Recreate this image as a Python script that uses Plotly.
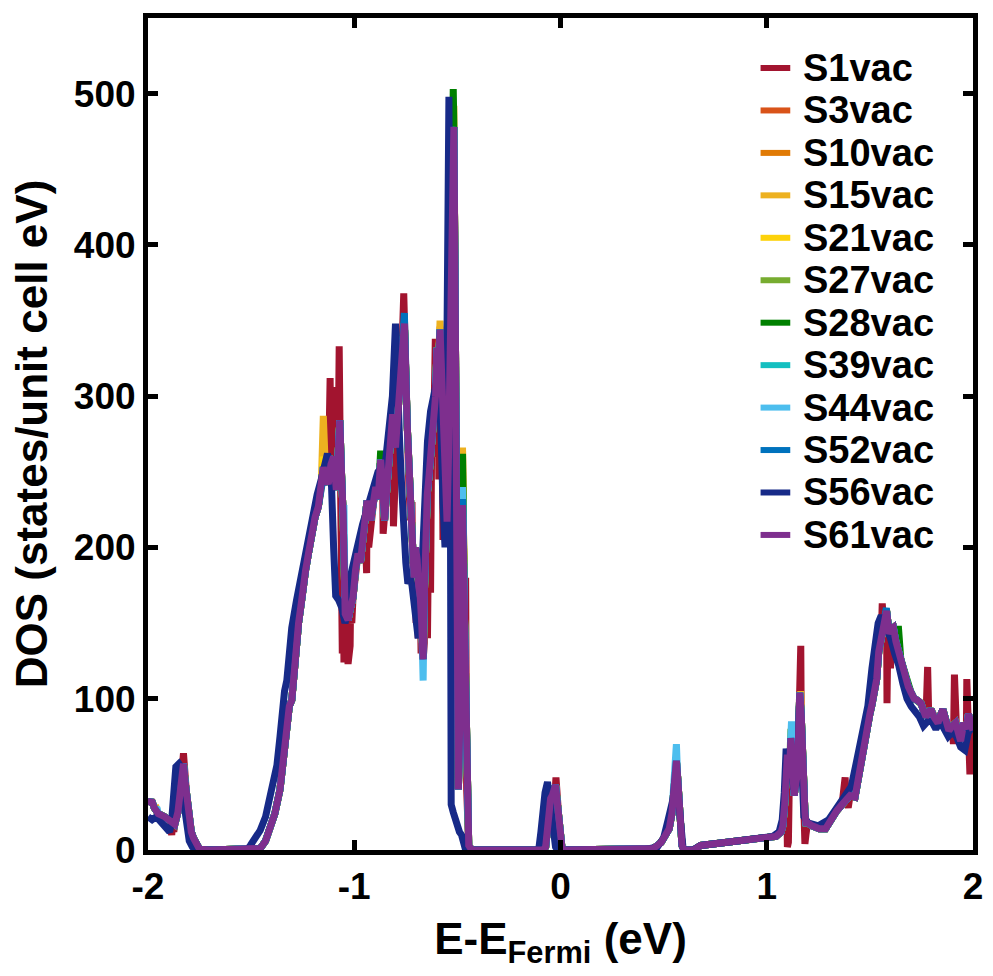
import plotly.graph_objects as go

# ---------------- data ----------------
SERIES = ["S1vac", "S3vac", "S10vac", "S15vac", "S21vac", "S27vac",
          "S28vac", "S39vac", "S44vac", "S52vac", "S56vac", "S61vac"]
COLORS = ["#A2142F", "#D95319", "#E07A05", "#EDB120", "#FDD20A", "#77AC30",
          "#008000", "#14BFC0", "#4DBEEE", "#0072BD", "#172A88", "#7E2F8E"]

X_TICKS = [-2, -1, 0, 1, 2]
X_TICK_TEXT = ["-2", "-1", "0", "1", "2"]
Y_TICKS = [0, 100, 200, 300, 400, 500]

# S61vac (drawn on top) – energy (eV) and DOS
E_S61 = [-2.00, -1.983, -1.97, -1.95, -1.92, -1.90, -1.88, -1.87, -1.855, -1.845,
         -1.835, -1.828, -1.82, -1.806, -1.79, -1.78, -1.765, -1.75, -1.70, -1.60,
         -1.50, -1.47, -1.456, -1.43, -1.41, -1.385, -1.36, -1.345, -1.327, -1.315,
         -1.303, -1.29, -1.28, -1.27, -1.255, -1.245, -1.236, -1.222, -1.207, -1.19,
         -1.174, -1.16, -1.15, -1.138, -1.126, -1.113, -1.10, -1.087, -1.078, -1.07,
         -1.062, -1.054, -1.044, -1.03, -1.018, -1.006, -0.994, -0.982, -0.97, -0.958,
         -0.948, -0.938, -0.92, -0.908, -0.896, -0.884, -0.872, -0.862, -0.853, -0.844,
         -0.834, -0.824, -0.814, -0.80, -0.79, -0.782, -0.77, -0.757, -0.743, -0.735,
         -0.727, -0.718, -0.71, -0.703, -0.695, -0.688, -0.68, -0.673, -0.666, -0.66,
         -0.655, -0.646, -0.637, -0.625, -0.613, -0.606, -0.599, -0.592, -0.584, -0.575,
         -0.565, -0.558, -0.55, -0.543, -0.536, -0.527, -0.517, -0.51, -0.503, -0.495,
         -0.485, -0.475, -0.465, -0.455, -0.445, -0.43, -0.30, -0.15, -0.085, -0.072,
         -0.064, -0.057, -0.048, -0.04, -0.03, -0.024, -0.016, -0.008, 0.0, 0.008,
         0.02, 0.2, 0.4, 0.45, 0.488, 0.51, 0.527, 0.54, 0.551, 0.557,
         0.562, 0.568, 0.575, 0.582, 0.589, 0.60, 0.647, 0.68, 0.75, 0.824,
         0.88, 0.934, 1.0, 1.045, 1.07, 1.078, 1.087, 1.095, 1.10, 1.11,
         1.117, 1.125, 1.133, 1.142, 1.15, 1.155, 1.16, 1.167, 1.172, 1.178,
         1.185, 1.19, 1.198, 1.22, 1.255, 1.285, 1.317, 1.34, 1.365, 1.385,
         1.404, 1.428, 1.44, 1.452, 1.465, 1.476, 1.488, 1.50, 1.51, 1.518,
         1.533, 1.543, 1.555, 1.567, 1.575, 1.581, 1.588, 1.595, 1.605, 1.614,
         1.626, 1.638, 1.65, 1.662, 1.675, 1.686, 1.70, 1.715, 1.73, 1.748,
         1.76, 1.772, 1.785, 1.796, 1.81, 1.83, 1.842, 1.854, 1.87, 1.883,
         1.90, 1.916, 1.928, 1.94, 1.955, 1.968, 1.978, 1.99, 2.0]
V_S61 = [30, 33, 28, 24, 22, 20, 18, 17, 25, 38,
         52, 57, 45, 24, 12, 8, 3, 0.5, 0, 0,
         0, 0.5, 1, 6, 13, 24, 40, 58, 80, 95,
         99, 125, 143, 150, 165, 178, 185, 196, 209, 220,
         227, 240, 253, 245, 242, 255, 260, 238, 262, 284,
         250, 222, 156, 152, 160, 167, 185, 196, 190, 205,
         215, 231, 218, 228, 240, 232, 258, 240, 218, 235,
         253, 270, 288, 266, 285, 304, 325, 348, 280, 250,
         218, 195, 180, 200, 192, 175, 167, 150, 126, 170,
         217, 235, 248, 265, 289, 300, 332, 320, 344, 310,
         281, 250, 217, 260, 332, 410, 478, 350, 250, 40,
         110, 228, 150, 40, 3, 0, 0, 0, 0, 2,
         15, 30, 34, 36, 40, 43, 32, 18, 6, 0.5,
         0, 0, 0, 1, 5, 9, 14, 24, 41, 52,
         59, 48, 33, 15, 3, 0, 0, 3, 4, 5,
         6, 7, 8, 9, 12, 16, 30, 55, 63, 50,
         74, 55, 36, 45, 52, 80, 104, 90, 60, 42,
         25, 18, 18, 16, 14, 14, 22, 26, 30, 33,
         36, 35, 45, 57, 66, 75, 82, 90, 96, 102,
         113, 131, 140, 149, 155, 158, 150, 143, 146, 147,
         138, 131, 126, 120, 114, 108, 104, 100, 99, 97,
         92, 88, 91, 93, 88, 84, 89, 93, 85, 79,
         82, 84, 78, 72, 84, 80, 90, 82, 79]

# S56vac (dark blue, slightly shifted to lower energy)
E_S56 = [-2.00, -1.98, -1.96, -1.93, -1.91, -1.895, -1.885, -1.875, -1.865, -1.85,
         -1.84, -1.83, -1.815, -1.80, -1.785, -1.77, -1.60, -1.52, -1.504, -1.48,
         -1.456, -1.43, -1.41, -1.39, -1.375, -1.36, -1.35, -1.338, -1.327, -1.303,
         -1.28, -1.26, -1.24, -1.22, -1.20, -1.18, -1.16, -1.14, -1.13, -1.12,
         -1.11, -1.10, -1.09, -1.075, -1.06, -1.045, -1.03, -1.02, -1.005, -0.99,
         -0.975, -0.96, -0.945, -0.93, -0.915, -0.90, -0.885, -0.87, -0.86, -0.85,
         -0.84, -0.83, -0.815, -0.80, -0.79, -0.78, -0.77, -0.76, -0.75, -0.74,
         -0.73, -0.72, -0.71, -0.70, -0.69, -0.68, -0.67, -0.66, -0.645, -0.63,
         -0.615, -0.60, -0.59, -0.58, -0.57, -0.56, -0.555, -0.548, -0.541, -0.535,
         -0.53, -0.52, -0.51, -0.50, -0.49, -0.48, -0.47, -0.46, -0.11, -0.104,
         -0.095, -0.088, -0.075, -0.063, -0.055, -0.048, -0.04, -0.03, -0.024, -0.015,
         0.40, 0.47, 0.50, 0.52, 0.535, 0.548, 0.555, 0.56, 0.568, 0.575,
         0.585, 0.595, 0.64, 0.68, 0.80, 0.95, 1.03, 1.06, 1.075, 1.085,
         1.094, 1.105, 1.115, 1.13, 1.15, 1.158, 1.165, 1.18, 1.20, 1.25,
         1.30, 1.33, 1.36, 1.39, 1.41, 1.43, 1.45, 1.47, 1.49, 1.51,
         1.525, 1.54, 1.555, 1.57, 1.585, 1.60, 1.62, 1.64, 1.66, 1.68,
         1.70, 1.72, 1.74, 1.76, 1.78, 1.80, 1.82, 1.84, 1.86, 1.88,
         1.90, 1.92, 1.94, 1.96, 1.98, 2.00]
V_S56 = [22, 20, 22, 18, 14, 12, 20, 45, 55, 57,
         55, 35, 17, 6, 2, 0, 0, 0, 3, 8,
         13, 22, 33, 45, 56, 75, 97, 105, 112, 147,
         165, 180, 195, 210, 222, 235, 245, 258, 262, 255,
         240, 200, 168, 165, 160, 150, 158, 180, 190, 200,
         210, 215, 222, 230, 235, 245, 250, 252, 245, 255,
         270, 290, 300, 348, 320, 270, 240, 210, 190, 176,
         180, 175, 160, 150, 140, 160, 200, 240, 270, 290,
         300, 310, 300, 280, 230, 200, 260, 400, 498, 300,
         30, 25, 20, 15, 12, 10, 5, 0, 0, 2,
         12, 25, 38, 45, 35, 25, 17, 6, 2, 0,
         0, 2, 8, 19, 28, 35, 45, 50, 40, 25,
         5, 0, 0, 3, 5, 7, 9, 12, 20, 38,
         67, 55, 60, 40, 50, 95, 70, 22, 18, 16,
         20, 26, 32, 38, 42, 55, 68, 85, 95, 120,
         140, 150, 155, 150, 148, 140, 130, 122, 110, 100,
         95, 92, 88, 82, 85, 85, 80, 85, 80, 75,
         78, 75, 68, 66, 80, 78]

# Points where the other series visibly differ from S61vac (energy: DOS)
S1_POINTS = {-1.885: 10, -1.875: 12, -1.828: 64, -1.117: 312, -1.105: 290,
             -1.093: 306, -1.082: 280, -1.073: 333, -1.065: 240, -1.058: 130,
             -1.05: 124, -1.04: 140, -1.03: 123, -1.02: 135, -1.012: 150,
             -0.94: 183, -0.93: 200, -0.86: 209, -0.81: 214, -0.76: 368,
             -0.748: 300, -0.735: 240, -0.72: 230, -0.70: 150, -0.69: 140,
             -0.676: 130, -0.66: 137, -0.645: 140, -0.63: 170, -0.62: 260,
             -0.607: 338, -0.59: 245, -0.57: 205, -0.56: 210, -0.47: 200,
             -0.46: 180, -0.022: 48, 1.10: 2, 1.105: 5, 1.165: 135,
             1.185: 4, 1.19: 10, 1.38: 48, 1.395: 28, 1.56: 163,
             1.575: 150, 1.583: 97, 1.60: 120, 1.76: 95, 1.78: 121,
             1.79: 85, 1.905: 70, 1.91: 116, 1.92: 80, 1.97: 113,
             1.985: 50, 1.995: 60}
S3_POINTS = {-0.475: 236, 1.16: 102}
S10_POINTS = {-0.475: 264, -0.584: 346}
S15_POINTS = {-1.96: 28, -1.15: 287, -0.584: 350, -0.517: 492, -0.475: 266, 1.165: 105}
S21_POINTS = {-0.475: 245, -1.15: 260}
S27_POINTS = {1.117: 80, -0.475: 250}
S28_POINTS = {-0.872: 264, -0.52: 503, -0.475: 262, 1.638: 148}
S39_POINTS = {1.12: 80, -0.475: 238}
S44_POINTS = {-1.955: 27, -1.05: 228, -0.666: 112, -0.475: 240, 0.562: 70, 1.12: 85}
S52_POINTS = {-1.14: 255, -0.757: 355, -0.475: 232, 1.58: 160}


def with_points(base_e, base_v, points):
    table = dict(zip(base_e, base_v))
    table.update(points)
    keys = sorted(table)
    return keys, [table[k] for k in keys]


DATA = {
    "S1vac": with_points(E_S61, V_S61, S1_POINTS),
    "S3vac": with_points(E_S61, V_S61, S3_POINTS),
    "S10vac": with_points(E_S61, V_S61, S10_POINTS),
    "S15vac": with_points(E_S61, V_S61, S15_POINTS),
    "S21vac": with_points(E_S61, V_S61, S21_POINTS),
    "S27vac": with_points(E_S61, V_S61, S27_POINTS),
    "S28vac": with_points(E_S61, V_S61, S28_POINTS),
    "S39vac": with_points(E_S61, V_S61, S39_POINTS),
    "S44vac": with_points(E_S61, V_S61, S44_POINTS),
    "S52vac": with_points(E_S61, V_S61, S52_POINTS),
    "S56vac": (E_S56, V_S56),
    "S61vac": (E_S61, V_S61),
}

# ---------------- figure ----------------
FONT = "Liberation Sans, Arial, sans-serif"
fig = go.Figure()
for name, col in zip(SERIES, COLORS):
    xs, ys = DATA[name]
    fig.add_trace(go.Scatter(x=xs, y=ys, mode="lines", name=name,
                             line=dict(color=col, width=7), showlegend=False))

# legend drawn as shapes + annotations
annots = []
shapes = []
for i, (name, col) in enumerate(zip(SERIES, COLORS)):
    yp = 0.9399 - i * 0.05102
    shapes.append(dict(type="line", xref="paper", yref="paper",
                       x0=0.7425, x1=0.7785, y0=yp, y1=yp,
                       line=dict(color=col, width=6)))
    annots.append(dict(xref="paper", yref="paper", x=0.792, y=yp,
                       xanchor="left", yanchor="middle", text=name,
                       showarrow=False,
                       font=dict(family=FONT, size=38, color="black", weight="bold")))

fig.update_layout(
    width=993, height=976,
    margin=dict(l=148, r=10, t=18, b=126),
    paper_bgcolor="white", plot_bgcolor="white",
    shapes=shapes, annotations=annots,
    showlegend=False,
)
fig.update_xaxes(range=[-2, 2], tickvals=X_TICKS, ticktext=X_TICK_TEXT,
                 showline=True, linecolor="black", linewidth=5, mirror="ticks",
                 ticks="inside", ticklen=10, tickwidth=5, tickcolor="black",
                 showgrid=False, zeroline=False,
                 tickfont=dict(family=FONT, size=37, color="black", weight="bold"),
                 title=dict(text="E-E<sub>Fermi</sub> (eV)", standoff=18,
                            font=dict(family=FONT, size=44, color="black", weight="bold")))
fig.update_yaxes(range=[0, 550], tickvals=Y_TICKS,
                 showline=True, linecolor="black", linewidth=5, mirror="ticks",
                 ticks="inside", ticklen=10, tickwidth=5, tickcolor="black",
                 showgrid=False, zeroline=False,
                 tickfont=dict(family=FONT, size=37, color="black", weight="bold"),
                 title=dict(text="DOS (states/unit cell eV)", standoff=14,
                            font=dict(family=FONT, size=44, color="black", weight="bold")))

fig.write_html("out.html")
